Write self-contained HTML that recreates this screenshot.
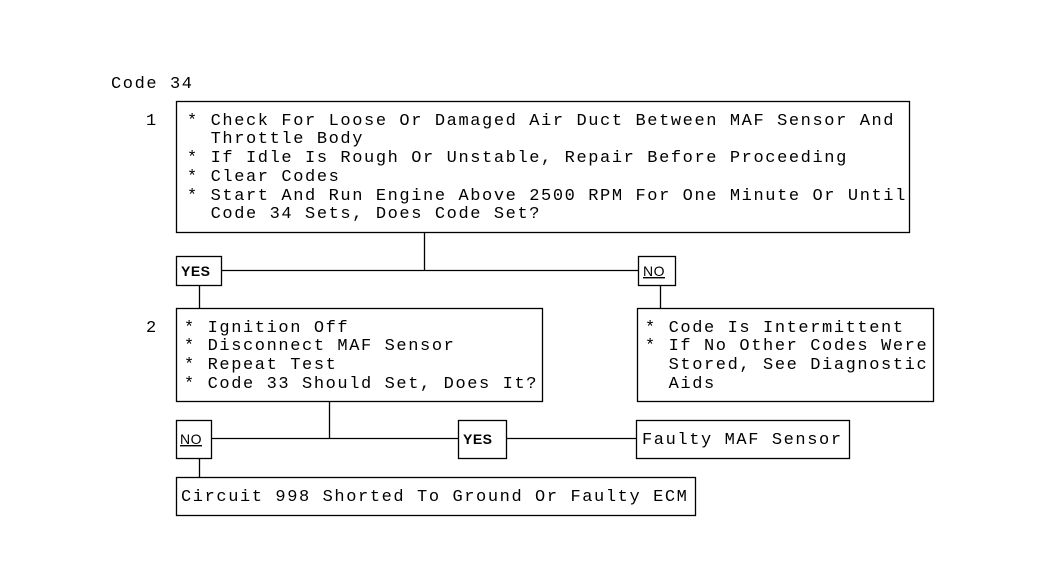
<!DOCTYPE html>
<html><head><meta charset="utf-8"><style>
html,body{margin:0;padding:0;background:#fff;}
svg text{font-family:"Liberation Mono","DejaVu Sans Mono",monospace;font-size:17px;letter-spacing:1.6px;fill:#000;white-space:pre;}
.b{font-family:"Liberation Sans","DejaVu Sans",sans-serif;font-weight:bold;font-size:14px;letter-spacing:0.5px;}
.n{font-family:"Liberation Sans","DejaVu Sans",sans-serif;font-size:14px;letter-spacing:0.5px;text-decoration:underline;}
</style></head><body>
<svg width="1044" height="582" viewBox="0 0 1044 582" xmlns="http://www.w3.org/2000/svg">
<g fill="none" stroke="#000" stroke-width="1.3">
<rect x="176.5" y="101.5" width="733" height="131"/>
<rect x="176.5" y="256.5" width="45" height="29"/>
<rect x="638.5" y="256.5" width="37" height="29"/>
<rect x="176.5" y="308.5" width="366" height="93"/>
<rect x="637.5" y="308.5" width="296" height="93"/>
<rect x="176.5" y="420.5" width="35" height="38"/>
<rect x="458.5" y="420.5" width="48" height="38"/>
<rect x="636.5" y="420.5" width="213" height="38"/>
<rect x="176.5" y="477.5" width="519" height="38"/>
<path d="M424.5 232V270.5M222 270.5H638M199.5 285V308M660.5 285V308M329.5 401V438.5M212 438.5H458M507 438.5H636M199.5 458V477"/>
</g>
<text x="111" y="88">Code 34</text>
<text x="146" y="125">1</text>
<text x="187" y="125">* Check For Loose Or Damaged Air Duct Between MAF Sensor And</text>
<text x="187" y="143">  Throttle Body</text>
<text x="187" y="162">* If Idle Is Rough Or Unstable, Repair Before Proceeding</text>
<text x="187" y="181">* Clear Codes</text>
<text x="187" y="200">* Start And Run Engine Above 2500 RPM For One Minute Or Until</text>
<text x="187" y="218">  Code 34 Sets, Does Code Set?</text>
<text class="b" x="181" y="276">YES</text>
<text class="n" x="643" y="276">NO</text>
<text x="146" y="332">2</text>
<text x="184" y="332">* Ignition Off</text>
<text x="184" y="350">* Disconnect MAF Sensor</text>
<text x="184" y="369">* Repeat Test</text>
<text x="184" y="388">* Code 33 Should Set, Does It?</text>
<text x="645" y="332">* Code Is Intermittent</text>
<text x="645" y="350">* If No Other Codes Were</text>
<text x="645" y="369">  Stored, See Diagnostic</text>
<text x="645" y="388">  Aids</text>
<text class="n" x="180" y="444">NO</text>
<text class="b" x="463" y="444">YES</text>
<text x="642" y="444">Faulty MAF Sensor</text>
<text x="181" y="501">Circuit 998 Shorted To Ground Or Faulty ECM</text>
</svg>
</body></html>
